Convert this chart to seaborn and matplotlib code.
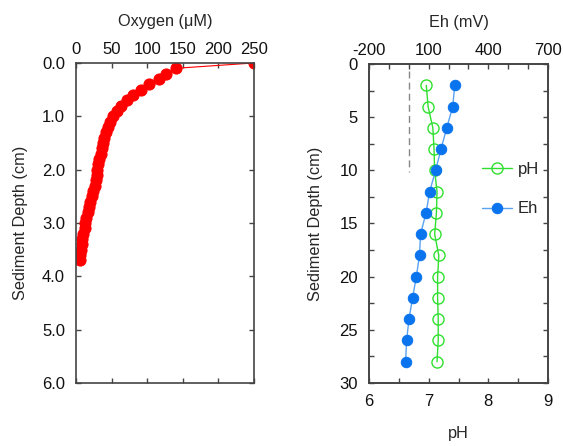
import numpy as np
import pandas as pd
import seaborn as sns
import matplotlib.pyplot as plt
import matplotlib.ticker as mtick

sns.set_theme(style="ticks")
plt.rcParams['font.family'] = ['Liberation Sans', 'DejaVu Sans']
plt.rcParams['axes.unicode_minus'] = False
plt.rcParams['axes.labelsize'] = 11.7
plt.rcParams['xtick.labelsize'] = 12
plt.rcParams['ytick.labelsize'] = 12
plt.rcParams['legend.fontsize'] = 12

#%% data
# oxygen microprofile (left panel)
o2_depth = [0.0, 0.1, 0.2, 0.3, 0.4, 0.5, 0.6, 0.7, 0.8, 0.9,
            1.0, 1.1, 1.2, 1.3, 1.4, 1.5, 1.6, 1.7, 1.8, 1.9,
            2.0, 2.1, 2.2, 2.3, 2.4, 2.5, 2.6, 2.7, 2.8, 2.9,
            3.0, 3.1, 3.2, 3.3, 3.4, 3.5, 3.6, 3.7]
oxygen = [250, 140, 127, 116, 103, 91, 80, 71, 63, 57,
          52, 48, 44.5, 42, 40, 38.5, 37, 35, 33, 31.5,
          30, 29, 27.5, 26, 24, 22, 20, 18, 16.5, 14.5,
          13, 12, 10, 8.5, 8, 7, 6, 5]

# pH / Eh profile (right panel)
core_depth = [2, 4, 6, 8, 10, 12, 14, 16, 18, 20, 22, 24, 26, 28]
ph = [6.96, 6.99, 7.07, 7.09, 7.10, 7.14, 7.13, 7.10, 7.17, 7.15, 7.15, 7.16, 7.16, 7.14]
eh = [231, 221, 191, 162, 135, 105, 87, 59, 54, 38, 19, 1, -11, -16]
eh_ticks = [-200, 100, 400, 700]

# dashed reference line at Eh = 0
eh_ref = [0, 0]
eh_ref_depth = [0.7, 10.2]

o2_df = pd.DataFrame({'depth': o2_depth, 'oxygen': oxygen})
core_df = pd.DataFrame({'depth': core_depth, 'pH': ph, 'Eh': eh})

#%% figure
fig = plt.figure(figsize=(5.63, 4.46), dpi=100)
ax1 = fig.add_axes([0.135, 0.1413, 0.316, 0.7175])
ax2 = fig.add_axes([0.6554, 0.1413, 0.318, 0.7152])

spine_col = '#444444'
tick_kw = dict(direction='in', length=3.6, width=1, color=spine_col, labelcolor='#111111')

# left panel: oxygen
sns.lineplot(data=o2_df, x='oxygen', y='depth', orient='y', ax=ax1, color='red',
             linewidth=0.8, marker='o', markersize=8, markeredgecolor='red',
             markerfacecolor='red')
ax1.set_xlim(0, 250)
ax1.set_ylim(6, 0)
ax1.xaxis.set_major_locator(mtick.MultipleLocator(50))
ax1.yaxis.set_major_locator(mtick.MultipleLocator(1))
ax1.yaxis.set_major_formatter(mtick.FormatStrFormatter('%.1f'))
ax1.tick_params(axis='both', which='both', top=True, bottom=True, left=True, right=True,
                labeltop=True, labelbottom=False, **tick_kw)
ax1.tick_params(axis='x', pad=4)
ax1.tick_params(axis='y', pad=8)
ax1.xaxis.set_label_position('top')
ax1.set_xlabel('Oxygen (μM)', labelpad=12)
ax1.set_ylabel('Sediment Depth (cm)', labelpad=10)

# right panel: pH (bottom) and Eh (top)
green = '#2fe02f'
sns.lineplot(data=core_df, x='pH', y='depth', orient='y', ax=ax2, color=green,
             linewidth=1, marker='o', markersize=8, markeredgecolor=green,
             markerfacecolor='none', markeredgewidth=1, label='pH', legend=False)
ax2.set_xlim(6, 9)
ax2.set_ylim(30, 0)
ax2.xaxis.set_major_locator(mtick.MultipleLocator(1))
ax2.xaxis.set_minor_locator(mtick.MultipleLocator(0.5))
ax2.yaxis.set_major_locator(mtick.MultipleLocator(5))
ax2.yaxis.set_minor_locator(mtick.MultipleLocator(2.5))
ax2.tick_params(axis='both', which='both', bottom=True, left=True, right=True, top=False, **tick_kw)
ax2.tick_params(axis='x', pad=8)
ax2.tick_params(axis='y', pad=8)
ax2.set_xlabel('pH', labelpad=12)
ax2.set_ylabel('Sediment Depth (cm)', labelpad=12)

ax3 = ax2.twiny()
ax3.vlines(eh_ref[0], eh_ref_depth[0], eh_ref_depth[1], colors='#888888',
           linestyles=(0, (5, 3)), linewidth=1)
sns.lineplot(data=core_df, x='Eh', y='depth', orient='y', ax=ax3, color='#5aa2f2',
             linewidth=1, marker='o', markersize=7.5, markeredgecolor='#0a74ee',
             markerfacecolor='#0a74ee', label='Eh', legend=False)
ax3.set_xlim(-200, 700)
ax3.set_ylim(30, 0)
ax3.xaxis.set_major_locator(mtick.FixedLocator(eh_ticks))
ax3.xaxis.set_minor_locator(mtick.MultipleLocator(100))
ax3.tick_params(axis='x', which='both', top=True, labeltop=True, pad=4, **tick_kw)
ax3.set_xlabel('Eh (mV)', labelpad=12)
ax3.set_ylabel('')

for ax in (ax1, ax2, ax3):
    for sp in ax.spines.values():
        sp.set_color(spine_col)
        sp.set_linewidth(1.2)

handles = [ax2.lines[0], ax3.lines[-1]]
ax3.legend(handles, ['pH', 'Eh'], frameon=False, loc='upper left',
           bbox_to_anchor=(0.63, 0.692), borderaxespad=0, borderpad=0,
           labelspacing=1.45, handlelength=1.8, handletextpad=0.35)

plt.savefig('out.png', dpi=100)
